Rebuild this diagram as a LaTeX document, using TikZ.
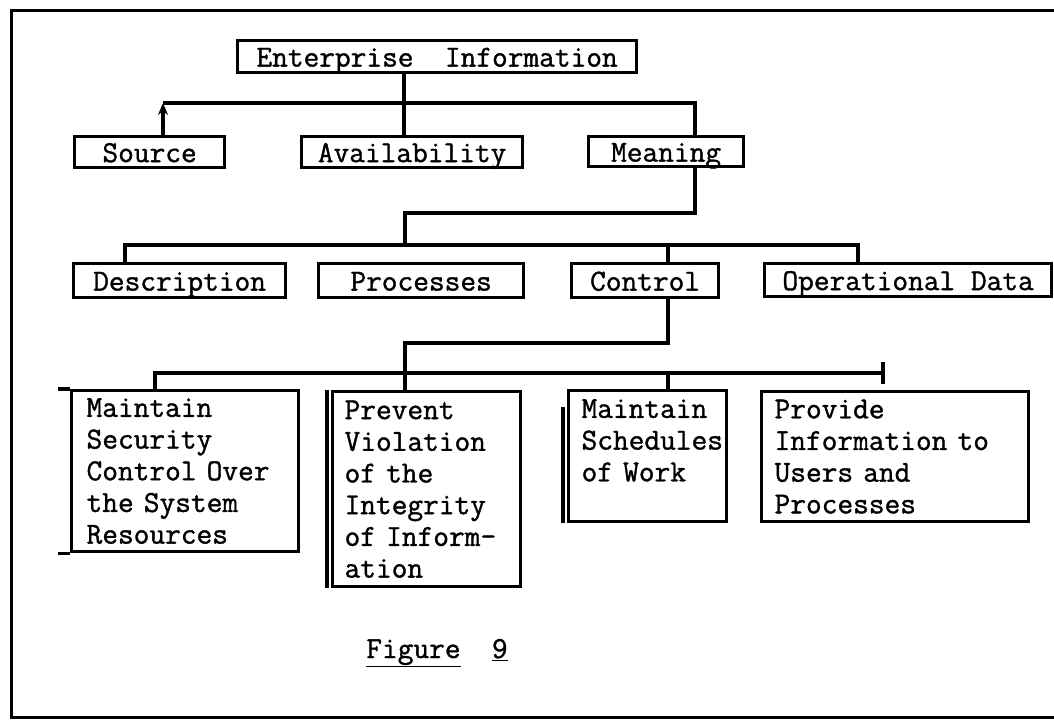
\documentclass[tikz,border=0pt]{standalone}
\usepackage{fontspec}
\usepackage{tikz}
\usetikzlibrary{arrows.meta,positioning,calc}
\newfontfamily\typefont[FakeBold=1.2]{Latin Modern Mono}
\tikzset{
  headbox/.style={rectangle, draw=black, line width=3.2pt, anchor=north west,
    font=\typefont\fontsize{30.5}{31.7}\selectfont,
    inner xsep=0pt, inner ysep=0pt, text height=20pt, text depth=0pt},
  taskbox/.style={rectangle, draw=black, line width=3.2pt, anchor=north west,
    font=\typefont\fontsize{30.5}{31.7}\selectfont, align=left, inner ysep=0pt},
  tie/.style={line width=3.2pt, black},
  framerule/.style={line width=3pt, black}
}

\begin{document}
\begin{tikzpicture}[x=1pt,y=-1pt]
  \useasboundingbox (0,0) rectangle (1054,721);
  \draw[framerule] (1054,10) -- (11,10) -- (11,717) -- (1054,717);

  \node[headbox,minimum width=399pt,minimum height=32pt] (ent) at (236,39) {Enterprise\ \ Information};
  \node[headbox,minimum width=150pt,minimum height=31pt] (src) at (73,135) {Source};
  \node[headbox,minimum width=221pt,minimum height=31pt] (avail) at (300,135) {Availability};
  \node[headbox,minimum width=155pt,minimum height=30pt] (mean) at (587,135) {Meaning};

  \node[headbox,minimum width=212pt,minimum height=34pt] (desc) at (72,262) {Description};
  \node[headbox,minimum width=205pt,minimum height=34pt] (proc) at (317,262) {Processes};
  \node[headbox,minimum width=147pt,minimum height=34pt] (ctrl) at (570,262) {Control};
  \node[headbox,minimum width=287pt,minimum height=33pt] (opd) at (763,262) {Operational Data};

  \node[taskbox,text width=197pt,inner xsep=15pt,minimum height=161pt] (sec) at (70,389)
    {Maintain\\Security\\Control Over\\the System\\Resources};
  \node[taskbox,text width=164pt,inner xsep=12pt,minimum height=195pt] (prev) at (331,390)
    {Prevent\\Violation\\of the\\Integrity\\of Inform-\\ation};
  \node[taskbox,text width=132pt,inner xsep=13pt,minimum height=131pt] (sched) at (567,389)
    {Maintain\\Schedules\\of Work\\\mbox{}};
  \node[taskbox,text width=241pt,inner xsep=13pt,minimum height=130pt] (prov) at (760,390)
    {Provide\\Information to\\Users and\\Processes};

  \node[font=\typefont\fontsize{30.5}{31.7}\selectfont,anchor=base] (fig) at (437,658)
    {\underline{Figure}\ \ \underline{9}};

  % branch points of the three levels
  \coordinate (s1l) at (163,103);
  \coordinate (s1r) at (695,103);
  \coordinate (e1) at (404,103);
  \coordinate (m1) at (405,213);
  \coordinate (s2l) at (125,245);
  \coordinate (s2r) at (858,245);
  \coordinate (c1) at (668,343);
  \coordinate (c2) at (405,343);
  \coordinate (s3l) at (155,373);
  \coordinate (s3r) at (883,373);

  \draw[tie] (ent.south -| e1) -- (avail.north -| e1);
  \draw[tie] (s1l) -- (s1r) -- (mean.north -| s1r);
  \draw[tie,-{Stealth[length=12pt,width=10pt]}] (src.north -| s1l) -- (s1l);

  \draw[tie] (mean.south -| s1r) |- (m1) -- (m1 |- s2l);
  \draw[tie] (desc.north -| s2l) -- (s2l) -- (s2r) -- (opd.north -| s2r);
  \draw[tie] (c1 |- s2l) -- (ctrl.north -| c1);

  \draw[tie] (ctrl.south -| c1) -- (c1) -- (c2) -- (c2 |- s3l);
  \draw[tie] (sec.north -| s3l) -- (s3l) -- (s3r);
  \draw[tie] (c2 |- s3l) -- (prev.north -| c2);
  \draw[tie] (c1 |- s3l) -- (sched.north -| c1);
  \draw[tie] ([yshift=11pt]s3r) -- ([yshift=-11pt]s3r);

  \draw[tie] ([xshift=-12pt]sec.north west) -- (sec.north west);
  \draw[tie] ([xshift=-12pt]sec.south west) -- (sec.south west);
  \draw[tie] ([xshift=-4pt]prev.north west) -- ([xshift=-4pt]prev.south west);
  \draw[tie] ([xshift=-4pt,yshift=-18pt]sched.north west) -- ([xshift=-4pt]sched.south west);
\end{tikzpicture}
\end{document}
